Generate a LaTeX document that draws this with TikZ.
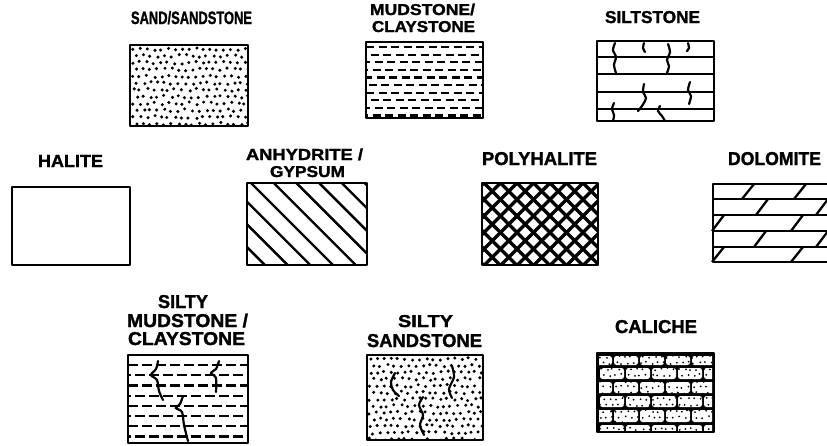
\documentclass[tikz,border=0pt]{standalone}
\usepackage{fontspec}
\setmainfont{Liberation Sans}
\newfontfamily\labfont{Liberation Sans}[FakeBold=1.5]
\usepackage{graphicx}
\newcommand\fitt[3]{\resizebox{#1pt}{#2pt}{\labfont\bfseries #3}}
\newcommand\slsh{\smash{/}}
\tikzset{
  lbl/.style={inner sep=0pt, outer sep=0pt, anchor=base west},
  frame/.style={line width=2.8pt, line join=round},
  hline/.style={line width=2.3pt},
  crack/.style={line width=2.2pt, line cap=round},
  hatch/.style={line width=2.4pt},
  cross/.style={line width=3.4pt},
  dashrow/.style={line width=2.2pt}
}
\begin{document}
\begin{tikzpicture}[x=1pt,y=-1pt]
\useasboundingbox (0,0) rectangle (827,445);
\fill[white] (0,0) rectangle (827,445);

% ---------- labels ----------
\node[lbl] (l1) at (131,24) {\fitt{121}{12.5}{SAND\slsh SANDSTONE}};
\node[lbl] (l2a) at (370,15) {\fitt{105}{11}{MUDSTONE\slsh}};
\node[lbl] (l2b) at (372,32) {\fitt{103}{11}{CLAYSTONE}};
\node[lbl] (l3) at (605,23) {\fitt{95}{12}{SILTSTONE}};
\node[lbl] (l4) at (38,167) {\fitt{65}{12}{HALITE}};
\node[lbl] (l5a) at (246,160) {\fitt{117}{11}{ANHYDRITE \slsh}};
\node[lbl] (l5b) at (270,177) {\fitt{75}{11}{GYPSUM}};
\node[lbl] (l6) at (482,165) {\fitt{115}{13}{POLYHALITE}};
\node[lbl] (l7) at (728,165) {\fitt{93}{13}{DOLOMITE}};
\node[lbl] (l8a) at (158,308) {\fitt{50}{13}{SILTY}};
\node[lbl] (l8b) at (127,327) {\fitt{121}{13}{MUDSTONE \slsh}};
\node[lbl] (l8c) at (128,345) {\fitt{117}{13}{CLAYSTONE}};
\node[lbl] (l9a) at (398,327) {\fitt{55}{12}{SILTY}};
\node[lbl] (l9b) at (367,347) {\fitt{115}{13}{SANDSTONE}};
\node[lbl] (l10) at (615,333) {\fitt{82}{13}{CALICHE}};

% ---------- sand / sandstone ----------
\begin{scope}
\clip (130,45) rectangle (248,126);
\pgfmathsetseed{7}
\foreach \j in {0,...,11}{
  \foreach \i in {0,...,16}{
    \pgfmathsetmacro\px{133+\i*7+mod(\j,2)*3.5+1.4*rand}
    \pgfmathsetmacro\py{49+\j*6.8+1.4*rand}
    \fill (\px,\py) circle (1.7);
  }}
\end{scope}
\draw[frame] (130,45) rectangle (248,126);

% ---------- mudstone / claystone ----------
\begin{scope}
\clip (366,42) rectangle (483,118);
\foreach \j in {0,...,9}{
  \pgfmathsetmacro\py{47+\j*7.6}
  \pgfmathsetmacro\ph{mod(\j,2)*6+mod(\j,3)*2}
  \draw[dashrow, dash pattern=on 8pt off 4.5pt, dash phase=\ph pt] (366,\py) -- (483,\py);
}
\end{scope}
\draw[frame] (366,42) rectangle (483,118);

% ---------- siltstone ----------
\foreach \yy in {57,74,92,109}{ \draw[hline] (597,\yy) -- (714,\yy); }
\draw[crack] plot[smooth] coordinates {(615,43) (613,50) (616,57) (614,65) (616,73)};
\draw[crack] plot[smooth] coordinates {(644,43) (643,48) (645,52)};
\draw[crack] plot[smooth] coordinates {(668,44) (670,52) (667,60) (669,66) (667,73)};
\draw[crack] plot[smooth] coordinates {(688,43) (689,48) (687,51)};
\draw[crack] plot[smooth] coordinates {(644,84) (643,92) (646,98) (642,106) (638,111)};
\draw[crack] plot[smooth] coordinates {(690,82) (688,90) (691,96) (689,104)};
\draw[crack] plot[smooth] coordinates {(614,103) (612,109) (614,115) (613,121)};
\draw[crack] plot[smooth] coordinates {(660,106) (658,111) (662,116) (665,121)};
\draw[frame] (597,41) rectangle (714,121);

% ---------- halite ----------
\draw[frame] (12,187) rectangle (130,265);

% ---------- anhydrite / gypsum ----------
\begin{scope}
\clip (247,183) rectangle (367,265);
\foreach \k in {-5,...,6}{ \draw[hatch] (251+\k*22.7,183) -- ++(100,100); }
\end{scope}
\draw[frame] (247,183) rectangle (367,265);

% ---------- polyhalite ----------
\begin{scope}
\clip (482,183) rectangle (598,265);
\foreach \k in {-6,...,12}{
  \draw[cross] (484+\k*16.5,183) -- ++(90,90);
  \draw[cross] (484+\k*16.5,183) -- ++(-90,90);
}
\end{scope}
\draw[frame] (482,183) rectangle (598,265);

% ---------- dolomite ----------
\begin{scope}
\clip (700,170) rectangle (827,275);
\foreach \yy in {199,215,231,247}{ \draw[hline] (713,\yy) -- (835,\yy); }
\foreach \xx/\ya/\yb in {748/184/199, 800/184/199, 762/199/215, 822/199/215,
    718/215/231, 797/215/231, 760/231/247, 822/231/247, 718/247/262, 797/247/262}{
  \draw[hline] (\xx-6,\yb) -- (\xx+6,\ya);
}
\draw[frame] (835,184) -- (713,184) -- (713,262) -- (835,262);
\end{scope}

% ---------- silty mudstone / claystone ----------
\begin{scope}
\clip (128,355) rectangle (248,443);
\foreach \j in {0,...,7}{
  \pgfmathsetmacro\py{365+\j*10.2}
  \pgfmathsetmacro\ph{mod(\j,2)*7}
  \draw[dashrow, dash pattern=on 10pt off 4pt, dash phase=\ph pt] (128,\py) -- (248,\py);
}
\end{scope}
\draw[crack] plot[smooth] coordinates {(158,361) (156,369) (151,375) (157,380) (159,391) (163,400)};
\draw[crack] plot[smooth] coordinates {(183,396) (180,404) (176,408) (182,412) (184,425) (188,441)};
\draw[crack] plot[smooth] coordinates {(219,361) (216,369) (211,373) (216,378) (216,392)};
\draw[frame] (128,355) rectangle (248,443);

% ---------- silty sandstone ----------
\begin{scope}
\clip (367,355) rectangle (483,440);
\pgfmathsetseed{11}
\foreach \j in {0,...,12}{
  \foreach \i in {0,...,16}{
    \pgfmathsetmacro\px{370+\i*7+mod(\j,2)*3.5+1.4*rand}
    \pgfmathsetmacro\py{359+\j*6.7+1.4*rand}
    \fill (\px,\py) circle (1.7);
  }}
\end{scope}
\draw[crack] plot[smooth] coordinates {(395,373) (391,382) (393,390) (399,396)};
\draw[crack] plot[smooth] coordinates {(452,366) (454,377) (449,389) (452,398)};
\draw[crack] plot[smooth] coordinates {(423,397) (419,405) (423,415) (420,425) (424,435)};
\draw[frame] (367,355) rectangle (483,440);

% ---------- caliche ----------
\fill (597,353) rectangle (714,432);
\begin{scope}
\clip (599,355) rectangle (712,430);
\foreach \ya/\yb/\off in {356/365/12, 368/379/0, 382/393/12, 396/407/0, 410/422/12, 425/433/0}{
  \foreach \c in {0,...,5}{
    \fill[white, rounded corners=2.5pt] (600+\c*26-\off,\ya) rectangle (624+\c*26-\off,\yb);
  }
}
\pgfmathsetseed{3}
\foreach \j in {0,...,12}{
  \foreach \i in {0,...,18}{
    \pgfmathsetmacro\px{601+\i*6+mod(\j,2)*3+1.3*rand}
    \pgfmathsetmacro\py{357+\j*6+1.3*rand}
    \fill (\px,\py) circle (1);
  }}
\end{scope}
\draw[frame] (597,353) rectangle (714,432);

\end{tikzpicture}
\end{document}
